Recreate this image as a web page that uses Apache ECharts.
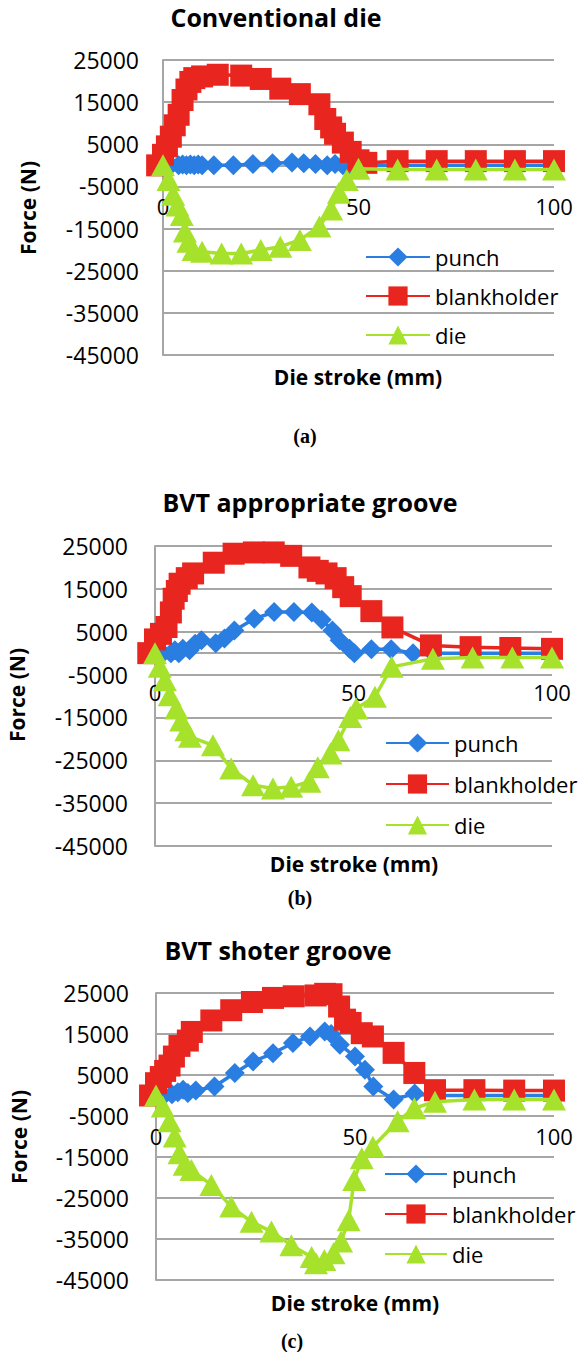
<!DOCTYPE html>
<html><head><meta charset="utf-8">
<script src="https://cdn.jsdelivr.net/npm/echarts@6/dist/echarts.min.js"></script>
<style>html,body{margin:0;padding:0;background:#fff}#c{width:585px;height:1352px}</style>
</head><body><div id="c"></div>
<script>
// ---------- data ----------
const seriesNames = ['punch', 'blankholder', 'die'];
const panelTitles = ['Conventional die', 'BVT appropriate groove', 'BVT shoter groove'];
const panelCaptions = ['(a)', '(b)', '(c)'];
const xAxisName = 'Die stroke (mm)';
const yAxisName = 'Force (N)';

// (a) Conventional die
const xPunchA = [0, 2, 4, 5, 6, 7, 8, 9, 10, 13, 18, 23, 28, 33, 36, 39, 42, 44, 46, 48, 50, 60, 70, 80, 90, 100];
const punchA  = [0, 0, 0, 200, 0, 200, 0, 200, 0, 0, 0, 300, 500, 700, 500, 300, 0, 300, 0, 0, 0, 0, 0, 0, 0, 0];
const xBlankA = [-1.5, 0, 1, 2, 3, 4, 5, 6, 7, 8, 10, 14, 20, 25, 30, 35, 40, 41.5, 43, 44, 46, 48, 50, 52, 60, 70, 80, 90, 100];
const blankA  = [0, 2500, 4500, 6800, 9500, 12000, 15500, 18000, 19800, 20700, 21100, 21500, 21300, 20500, 18200, 16900, 14500, 11000, 9000, 7500, 5400, 3200, 1200, 600, 1000, 1000, 1000, 1000, 1000];
const xDieA   = [0, 1.4, 2.6, 3.7, 4.8, 5.6, 6.5, 7.8, 10, 15, 20, 25, 30, 35, 40, 43, 45, 47, 50, 60, 70, 80, 90, 100];
const dieA    = [0, -3500, -7000, -9500, -11800, -15700, -18100, -20100, -20500, -20900, -20900, -20100, -19300, -17700, -14500, -10500, -6500, -3500, -800, -1000, -1000, -1000, -1000, -1000];

// (b) BVT appropriate groove
const xPunchB = [0, 2, 4, 5, 6, 7, 8.7, 10.1, 11.7, 15.3, 17.5, 20, 25, 30, 35, 39.5, 42, 44.7, 46.5, 49, 50.2, 54.5, 59.5, 65, 70, 80, 90, 100];
const punchB  = [0, 0, 0, 700, 0, 1000, 700, 2200, 3000, 2300, 3400, 5300, 8000, 9600, 9600, 9500, 7800, 5300, 3000, 1000, 0, 900, 900, 0, 0, 0, 0, 0];
const xBlankB = [-1.7, 0, 1.5, 2.9, 4, 4.7, 5.5, 6.2, 8, 9.6, 14.8, 19.8, 24.9, 29.9, 34.3, 38.9, 41, 43.2, 45.5, 47.4, 49.3, 54.5, 59.8, 69.5, 79.5, 89.5, 100];
const blankB  = [0, 3200, 4500, 6100, 9500, 12700, 14500, 16200, 17500, 18600, 21100, 23200, 23500, 23500, 22700, 20000, 19200, 18600, 17500, 15400, 13300, 9800, 6000, 1800, 1400, 1200, 1000];
const xDieB   = [0, 1.2, 2.5, 3.7, 5.4, 6.6, 7.9, 8.8, 14.6, 19.2, 24.7, 29.7, 34.3, 38.9, 41, 44.2, 46.2, 49.2, 50.7, 55.4, 59.6, 70, 80, 90, 100];
const dieB    = [0, -3200, -6300, -9800, -12900, -15700, -18000, -19500, -21500, -26900, -30800, -31600, -31200, -30000, -26600, -23400, -20300, -14900, -12900, -10200, -3200, -1300, -1000, -1000, -1000];

// (c) BVT shoter groove
const xPunchC = [0, 2, 4, 5.5, 6.8, 8, 10, 14.7, 19.8, 24.4, 29.4, 34.4, 38.7, 42.4, 44, 46.2, 50, 52.5, 54.6, 59.7, 65, 70, 80, 90, 100];
const punchC  = [0, 0, 300, 800, 1400, 600, 1200, 2200, 5500, 8300, 10300, 12800, 14400, 15600, 15000, 12400, 9500, 6300, 2200, -1000, 500, 0, 0, 0, 0];
const xBlankC = [-1.5, 0, 1.2, 2.3, 3.4, 4.5, 5.9, 8, 9, 13.9, 18.9, 24.1, 29.4, 34.6, 40.1, 42.5, 44.1, 46, 47.5, 48.9, 51.7, 54.5, 59.7, 64.9, 70.1, 80, 90, 100];
const blankC  = [0, 3000, 4500, 6000, 7300, 9500, 12100, 13400, 15500, 18300, 20800, 22800, 23800, 24200, 24400, 24800, 24700, 21700, 18500, 17700, 15200, 14400, 10400, 5500, 1300, 1300, 1200, 1200];
const xDieC   = [0, 1.7, 3.4, 4.7, 5.9, 7.2, 8.9, 13.9, 18.9, 24, 29, 34, 39.1, 40.2, 42.3, 44.6, 46.5, 48.4, 49.8, 51.7, 54.5, 60.7, 64.9, 70.1, 80, 90, 100];
const dieC    = [0, -2700, -6300, -10000, -14100, -16900, -18200, -21800, -27100, -30800, -33200, -36500, -39400, -40900, -40100, -38500, -35600, -30400, -20600, -15300, -12500, -6300, -3100, -1500, -1000, -1000, -1000];

const xMin = 0, xMax = 100, xStep = 50;
const yMin = -45000, yMax = 25000, yStep = 10000;

// ---------- layout / style ----------
const FONT = '"Open Sans", "Liberation Sans", sans-serif';
const COL = { punch: '#2A7DE1', blankholder: '#E8261F', die: '#A6E22B' };
const SYM = { punch: ['diamond', [20, 20]], blankholder: ['rect', 22], die: ['triangle', [24, 22]] };

const panels = [
  { grid: {left:163, top:60, width:391, height:295}, xLblMargin:30, yLblMargin:24,
    title:[276, 17], yname:[28, 208], xname:[358, 377], cap:[305, 436],
    legend:{left:360, top:241, itemWidth:64, itemGap:17},
    data:[[xPunchA,punchA],[xBlankA,blankA],[xDieA,dieA]] },
  { grid: {left:155, top:546, width:397, height:300}, xLblMargin:28, yLblMargin:27,
    title:[310, 502], yname:[17, 695], xname:[354, 864], cap:[300, 898],
    legend:{left:380, top:727, itemWidth:63, itemGap:19},
    data:[[xPunchB,punchB],[xBlankB,blankB],[xDieB,dieB]] },
  { grid: {left:156, top:993, width:398, height:287}, xLblMargin:29, yLblMargin:27,
    title:[278, 950], yname:[19, 1137], xname:[355, 1303], cap:[292, 1341],
    legend:{left:379, top:1158, itemWidth:62, itemGap:18},
    data:[[xPunchC,punchC],[xBlankC,blankC],[xDieC,dieC]] }
];

const grid = [], xAxis = [], yAxis = [], series = [], legend = [], graphic = [];
const gridColor = '#A6A6A6';
function txt(x, y, text, font, rot) {
  return { type:'text', x:x, y:y, rotation: rot || 0, silent:true,
    style:{ text:text, font:font, fill:'#000', align:'center', verticalAlign:'middle',
            textAlign:'center', textVerticalAlign:'middle' } };
}
panels.forEach((p, i) => {
  grid.push(Object.assign({containLabel:false}, p.grid));
  // place the horizontal axis on the y = 0 line of its own value scale
  const zeroOffset = -p.grid.height * (0 - yMin) / (yMax - yMin);
  xAxis.push({ gridIndex:i, type:'value', min:xMin, max:xMax, interval:xStep,
    position:'bottom', offset: zeroOffset,
    axisLine:{ onZero:false, lineStyle:{ color:gridColor, width:2 } },
    axisTick:{ show:false }, splitLine:{ show:false },
    axisLabel:{ margin:p.xLblMargin, color:'#000', fontSize:22, fontFamily:FONT, formatter:v => String(v) } });
  yAxis.push({ gridIndex:i, type:'value', min:yMin, max:yMax, interval:yStep,
    axisLine:{ show:true, onZero:false, lineStyle:{ color:gridColor, width:2 } },
    axisTick:{ show:false },
    splitLine:{ show:true, lineStyle:{ color:gridColor, width:2 } },
    axisLabel:{ margin:p.yLblMargin, color:'#000', fontSize:23, fontFamily:FONT, formatter:v => String(v) } });
  seriesNames.forEach((name, k) => {
    const xs = p.data[k][0], vs = p.data[k][1];
    series.push({ name:name, type:'line', xAxisIndex:i, yAxisIndex:i,
      data: xs.map((x, j) => [x, vs[j]]),
      symbol: SYM[name][0], symbolSize: SYM[name][1], showSymbol:true, clip:false,
      lineStyle:{ color:COL[name], width:3.5 }, itemStyle:{ color:COL[name] },
      z: 2 + k, animation:false, silent:true });
  });
  legend.push({ orient:'vertical', left:p.legend.left, top:p.legend.top,
    itemWidth:p.legend.itemWidth, itemHeight:24, itemGap:p.legend.itemGap,
    selectedMode:false, data:seriesNames.slice(),
    textStyle:{ fontSize:22, color:'#000', fontFamily:FONT } });
  graphic.push(txt(p.title[0], p.title[1], panelTitles[i], 'bold 25px ' + FONT));
  graphic.push(txt(p.yname[0], p.yname[1], yAxisName, 'bold 21px ' + FONT, Math.PI / 2));
  graphic.push(txt(p.xname[0], p.xname[1], xAxisName, 'bold 21px ' + FONT));
  graphic.push(txt(p.cap[0], p.cap[1], panelCaptions[i], 'bold 20px "Liberation Serif", "Times New Roman", serif'));
});

const chart = echarts.init(document.getElementById('c'), null, { renderer:'svg' });
chart.setOption({
  backgroundColor:'#fff', animation:false,
  textStyle:{ fontFamily:FONT },
  grid, xAxis, yAxis, series, legend, graphic
});
</script></body></html>
